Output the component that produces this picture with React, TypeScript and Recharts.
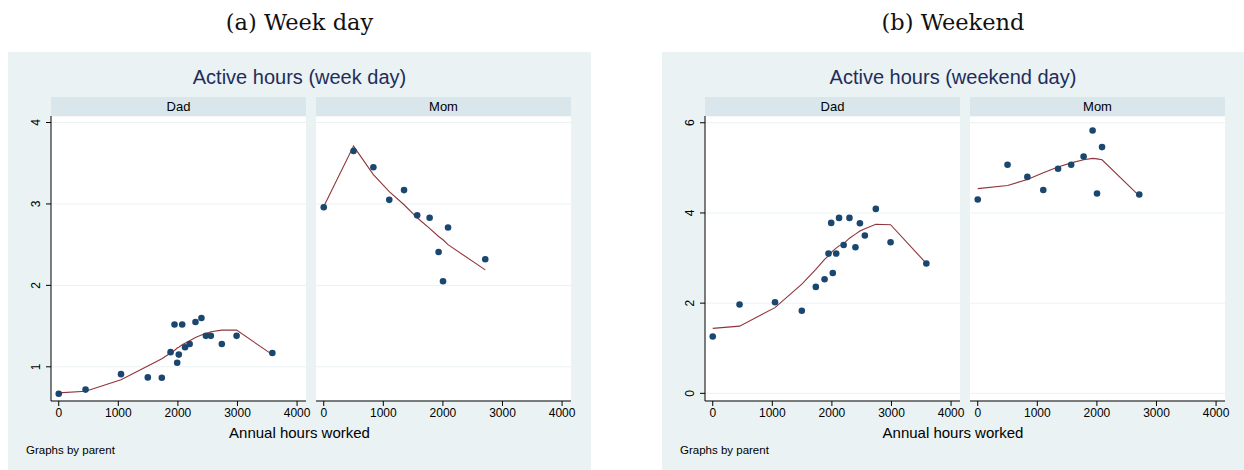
import React from "react";
import {
  ComposedChart,
  CartesianGrid,
  XAxis,
  YAxis,
  ZAxis,
  Line,
  Scatter,
} from "recharts";

// annual hours worked (x) for each group
const dadHours = [0, 450, 1045, 1495, 1730, 1877, 1943, 1988, 2015, 2072, 2120, 2197, 2295, 2395, 2470, 2553, 2737, 2985, 3585];
const momHours = [0, 500, 833, 1100, 1348, 1568, 1777, 1928, 2002, 2086, 2711];

// week day
const dadWeekday = [0.67, 0.72, 0.91, 0.87, 0.865, 1.18, 1.52, 1.05, 1.15, 1.52, 1.24, 1.28, 1.55, 1.6, 1.38, 1.38, 1.28, 1.38, 1.17];
const dadWeekdayFit = [0.68, 0.7, 0.84, 1.01, 1.1, 1.17, 1.2, 1.23, 1.24, 1.27, 1.29, 1.32, 1.36, 1.39, 1.41, 1.43, 1.45, 1.45, 1.15];
const momWeekday = [2.96, 3.65, 3.45, 3.05, 3.17, 2.86, 2.83, 2.41, 2.05, 2.71, 2.32];
const momWeekdayFit = [2.97, 3.71, 3.36, 3.15, 2.99, 2.83, 2.7, 2.6, 2.56, 2.5, 2.19];

// weekend
const dadWeekend = [1.26, 1.97, 2.02, 1.83, 2.36, 2.53, 3.1, 3.78, 2.67, 3.1, 3.89, 3.29, 3.89, 3.24, 3.77, 3.5, 4.09, 3.35, 2.88];
const dadWeekendFit = [1.44, 1.49, 1.9, 2.42, 2.75, 2.97, 3.05, 3.12, 3.16, 3.22, 3.27, 3.32, 3.44, 3.53, 3.6, 3.65, 3.75, 3.74, 2.88];
const momWeekend = [4.3, 5.07, 4.8, 4.51, 4.98, 5.07, 5.25, 5.83, 4.43, 5.46, 4.41];
const momWeekendFit = [4.54, 4.61, 4.74, 4.89, 5.02, 5.11, 5.18, 5.21, 5.2, 5.18, 4.38];

const xTicks = [0, 1000, 2000, 3000, 4000];
const weekdayTicks = [1, 2, 3, 4];
const weekendTicks = [0, 2, 4, 6];

const pairs = (xs: number[], ys: number[]) => xs.map((x, i) => ({ x, y: ys[i] }));

const BG = "#eaf2f3";
const STRIP = "#d9e6eb";
const NAVY = "#1a476f";
const MAROON = "#90353b";
const SANS = "'Liberation Sans', Arial, sans-serif";

const RotTick = (props: any) => {
  const { x, y, payload } = props;
  const bx = x - 4;
  return (
    <text
      x={bx}
      y={y}
      transform={`rotate(-90, ${bx}, ${y})`}
      textAnchor="middle"
      fontSize={12}
      fontFamily={SANS}
      fill="#000"
    >
      {payload.value}
    </text>
  );
};

type PanelProps = {
  plotLeft: number;
  hours: number[];
  values: number[];
  fit: number[];
  yDomain: [number, number];
  yTicks: number[];
  withAxis: boolean;
  label: string;
};

function Panel({ plotLeft, hours, values, fit, yDomain, yTicks, withAxis, label }: PanelProps) {
  const plotW = 255;
  const padL = withAxis ? 51 : 12;
  const padR = 16;
  return (
    <>
      <div
        style={{
          position: "absolute",
          left: plotLeft,
          top: 97,
          width: plotW,
          height: 19,
          background: STRIP,
          fontFamily: SANS,
          fontSize: 13,
          lineHeight: "19px",
          textAlign: "center",
          color: "#000",
        }}
      >
        {label}
      </div>
      <div style={{ position: "absolute", left: plotLeft - padL, top: 116 }}>
        <ComposedChart
          width={padL + plotW + padR}
          height={310}
          margin={{ top: 0, right: padR, bottom: 0, left: withAxis ? 0 : padL }}
        >
          <CartesianGrid vertical={false} stroke={BG} fill="#ffffff" />
          <XAxis
            type="number"
            dataKey="x"
            domain={[-130, 4150]}
            ticks={xTicks}
            allowDataOverflow
            interval={0}
            height={25}
            tickSize={5}
            tickMargin={2}
            stroke="#000"
            tick={{ fill: "#000", fontSize: 12, fontFamily: SANS }}
          />
          <YAxis
            type="number"
            domain={yDomain}
            ticks={yTicks}
            allowDataOverflow
            interval={0}
            hide={!withAxis}
            width={51}
            tickSize={5}
            tickMargin={2}
            stroke="#000"
            tick={<RotTick />}
          />
          <ZAxis range={[34, 34]} />
          <Line
            data={pairs(hours, fit)}
            dataKey="y"
            type="linear"
            stroke={MAROON}
            strokeWidth={1.1}
            dot={false}
            activeDot={false}
            isAnimationActive={false}
          />
          <Scatter data={pairs(hours, values)} dataKey="y" fill={NAVY} isAnimationActive={false} />
        </ComposedChart>
      </div>
    </>
  );
}

function Figure({
  left,
  width,
  caption,
  title,
  dad,
  dadFit,
  mom,
  momFit,
  yDomain,
  yTicks,
}: {
  left: number;
  width: number;
  caption: string;
  title: string;
  dad: number[];
  dadFit: number[];
  mom: number[];
  momFit: number[];
  yDomain: [number, number];
  yTicks: number[];
}) {
  const center = left + width / 2;
  return (
    <>
      <div
        style={{
          position: "absolute",
          left: center - 200,
          width: 400,
          top: 8,
          textAlign: "center",
          fontFamily: "'DejaVu Serif', serif",
          fontSize: 22.5,
          lineHeight: "28px",
          color: "#111",
        }}
      >
        {caption}
      </div>
      <div style={{ position: "absolute", left, top: 52, width, height: 418, background: BG }} />
      <div
        style={{
          position: "absolute",
          left: center - 200,
          width: 400,
          top: 64,
          textAlign: "center",
          fontFamily: SANS,
          fontSize: 20,
          lineHeight: "26px",
          color: "#1f2d5c",
        }}
      >
        {title}
      </div>
      <Panel
        plotLeft={left + 43}
        hours={dadHours}
        values={dad}
        fit={dadFit}
        yDomain={yDomain}
        yTicks={yTicks}
        withAxis
        label="Dad"
      />
      <Panel
        plotLeft={left + 308}
        hours={momHours}
        values={mom}
        fit={momFit}
        yDomain={yDomain}
        yTicks={yTicks}
        withAxis={false}
        label="Mom"
      />
      <div
        style={{
          position: "absolute",
          left: center - 150,
          width: 300,
          top: 424,
          textAlign: "center",
          fontFamily: SANS,
          fontSize: 15,
          lineHeight: "18px",
          color: "#000",
        }}
      >
        Annual hours worked
      </div>
      <div
        style={{
          position: "absolute",
          left: left + 18,
          top: 443,
          fontFamily: SANS,
          fontSize: 11.5,
          lineHeight: "14px",
          color: "#000",
        }}
      >
        Graphs by parent
      </div>
    </>
  );
}

export default function App() {
  return (
    <div
      style={{
        position: "absolute",
        left: 0,
        top: 0,
        width: 1244,
        height: 470,
        background: "#fff",
        overflow: "hidden",
      }}
    >
      <Figure
        left={8}
        width={583}
        caption="(a) Week day"
        title="Active hours (week day)"
        dad={dadWeekday}
        dadFit={dadWeekdayFit}
        mom={momWeekday}
        momFit={momWeekdayFit}
        yDomain={[0.58, 4.08]}
        yTicks={weekdayTicks}
      />
      <Figure
        left={662}
        width={582}
        caption="(b) Weekend"
        title="Active hours (weekend day)"
        dad={dadWeekend}
        dadFit={dadWeekendFit}
        mom={momWeekend}
        momFit={momWeekendFit}
        yDomain={[-0.17, 6.15]}
        yTicks={weekendTicks}
      />
    </div>
  );
}
